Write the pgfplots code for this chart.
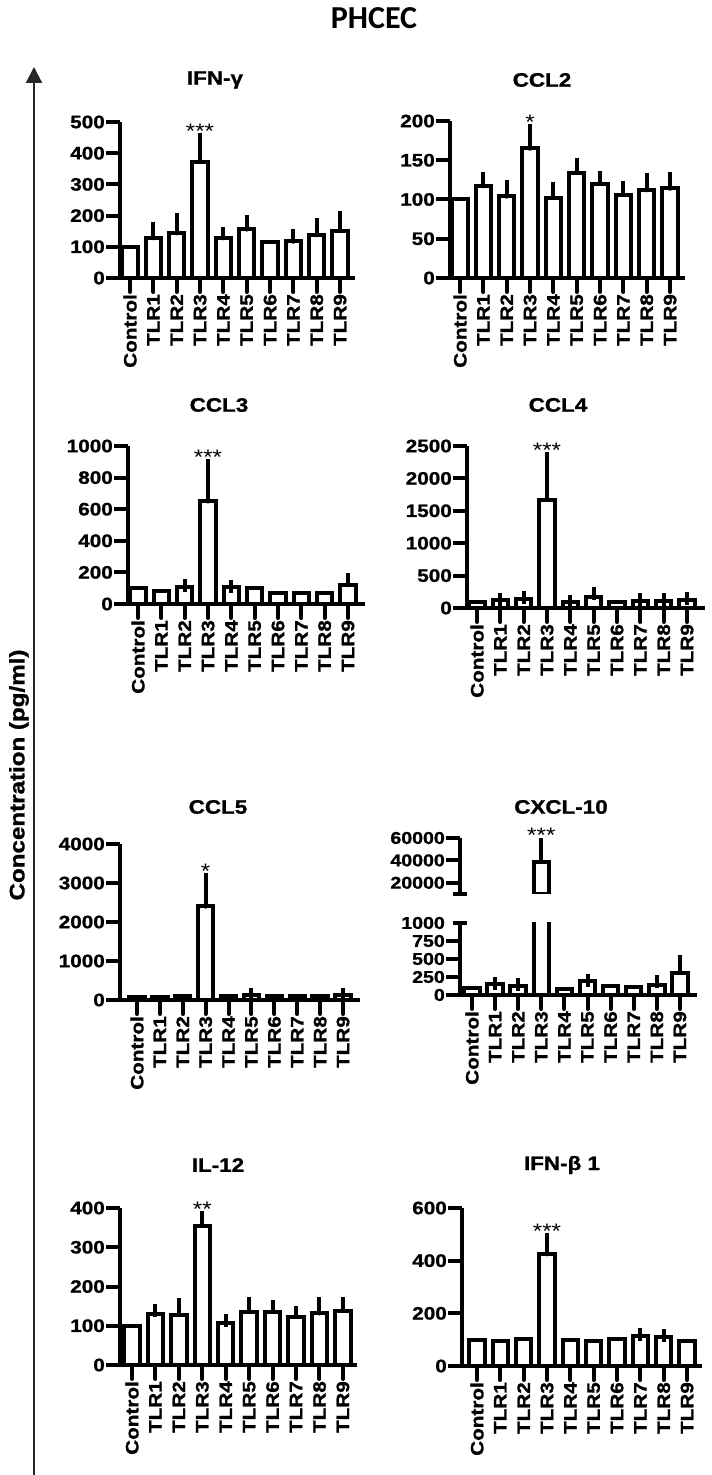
\documentclass[border=0pt]{standalone}
\usepackage{pgfplots}
\pgfplotsset{compat=1.18}
\usepackage{fontspec}
\setmainfont{Liberation Sans}[FakeStretch=1.15, BoldFeatures={FakeBold=1.2}]
\newfontfamily\calib{Carlito}
\usetikzlibrary{arrows.meta}
\newcommand\tl{\bfseries\fontsize{18}{18}\selectfont}
\newcommand\xl{\bfseries\fontsize{18}{18}\selectfont}
\newcommand\ttl{\bfseries\fontsize{19.5}{19.5}\selectfont}
\tikzset{sigstar/.style={font=\fontsize{21}{21}\selectfont, anchor=base, yshift=1pt}}
\pgfplotsset{
  panel/.style={
    scale only axis, anchor=south west,
    axis x line*=bottom, axis y line*=left,
    axis line style={line width=4.4pt, black},
    tick style={line width=4pt, black},
    xtick style={line cap=round},
    major tick length=14pt, tick align=outside,
    xtick={0,...,9},
    xticklabels={Control,TLR1,TLR2,TLR3,TLR4,TLR5,TLR6,TLR7,TLR8,TLR9},
    xticklabel style={rotate=90, anchor=east, font=\xl, inner sep=2pt},
    yticklabel style={font=\tl, inner sep=1pt},
    ymin=0, clip=false, scaled y ticks=false,
  },
  bars/.style={ybar, bar width=15.5pt, bar shift=0pt, fill=white, draw=black, line width=4pt},
  errs/.style={only marks, mark=none, black,
    error bars/.cd, y dir=plus, y explicit,
    error bar style={line width=4pt, black},
    error mark options={mark size=6.5pt, line width=4pt, black}},
}
\begin{document}
\begin{tikzpicture}
\useasboundingbox (0pt,0pt) rectangle (712pt,1475pt);
% ---------- IFN-gamma
\begin{axis}[panel, at={(120pt,1197pt)}, width=235pt, height=156pt, xmin=-0.43, xmax=9.64,
  ymax=500, ytick={0,100,200,300,400,500}, yticklabels={0,100,200,300,400,500}]
\addplot[bars] table[x=x,y=y] {
x y
0 100
1 128
2 144
3 372
4 128
5 156
6 114
7 117
8 138
9 151
};
\addplot[errs] table[x=x,y=y,y error=e] {
x y e
1 128 32
2 144 44
3 372 73
4 128 13
5 156 25
7 117 18
8 138 32
9 151 43
};
\node[sigstar] at (axis cs:3,445) {***};
\end{axis}
% ---------- CCL2
\begin{axis}[panel, at={(450pt,1197pt)}, width=235pt, height=157pt, xmin=-0.43, xmax=9.64,
  ymax=200, ytick={0,50,100,150,200}, yticklabels={0,50,100,150,200}]
\addplot[bars] table[x=x,y=y] {
x y
0 100
1 117
2 104
3 165
4 102
5 134
6 120
7 106
8 112
9 114
};
\addplot[errs] table[x=x,y=y,y error=e] {
x y e
1 117 10
2 104 12
3 165 23
4 102 12
5 134 11
6 120 8
7 106 9
8 112 13
9 114 13
};
\node[sigstar] at (axis cs:3,188) {*};
\end{axis}
% ---------- CCL3
\begin{axis}[panel, at={(128pt,871pt)}, width=237pt, height=158pt, xmin=-0.43, xmax=9.73,
  ymax=1000, ytick={0,200,400,600,800,1000}, yticklabels={0,200,400,600,800,1000}]
\addplot[bars] table[x=x,y=y] {
x y
0 100
1 85
2 110
3 650
4 105
5 100
6 72
7 72
8 68
9 120
};
\addplot[errs] table[x=x,y=y,y error=e] {
x y e
2 110 5
3 650 225
4 105 5
9 120 35
};
\node[sigstar] at (axis cs:3,875) {***};
\end{axis}
% ---------- CCL4
\begin{axis}[panel, at={(467pt,867pt)}, width=238pt, height=162pt, xmin=-0.43, xmax=9.77,
  ymax=2500, ytick={0,500,1000,1500,2000,2500}, yticklabels={0,500,1000,1500,2000,2500}]
\addplot[bars] table[x=x,y=y] {
x y
0 90
1 120
2 140
3 1670
4 90
5 170
6 90
7 110
8 115
9 125
};
\addplot[errs] table[x=x,y=y,y error=e] {
x y e
1 120 15
2 140 15
3 1670 630
4 90 10
5 170 60
7 110 15
8 115 15
9 125 15
};
\node[sigstar] at (axis cs:3,2300) {***};
\end{axis}
% ---------- CCL5
\begin{axis}[panel, at={(120pt,475pt)}, width=240pt, height=156pt, xmin=-0.74, xmax=9.74,
  ymax=4000, ytick={0,1000,2000,3000,4000}, yticklabels={0,1000,2000,3000,4000}]
\addplot[bars] table[x=x,y=y] {
x y
0 80
1 85
2 90
3 2400
4 110
5 130
6 110
7 95
8 100
9 120
};
\addplot[errs] table[x=x,y=y,y error=e] {
x y e
3 2400 700
5 130 20
9 120 20
};
\node[sigstar] at (axis cs:3,3100) {*};
\end{axis}
% ---------- CXCL-10 lower
\begin{axis}[panel, at={(460pt,480pt)}, width=237pt, height=72pt, xmin=-0.52, xmax=9.74,
  ymax=1000, clip=true, ytick={0,250,500,750}, yticklabels={0,250,500,750},
  yticklabel style={font=\bfseries\fontsize{17}{17}\selectfont},
  extra y ticks={1000}, extra y tick labels={1000},
  extra y tick style={tick align=center, yticklabel style={font=\bfseries\fontsize{17}{17}\selectfont, xshift=-7pt}}]
\addplot[bars] table[x=x,y=y] {
x y
0 100
1 150
2 130
3 39000
4 90
5 190
6 120
7 110
8 140
9 310
};
\addplot[errs] table[x=x,y=y,y error=e] {
x y e
1 150 10
2 130 15
5 190 15
8 140 45
9 310 150
};
\end{axis}
% ---------- CXCL-10 upper
\begin{axis}[scale only axis, anchor=south west, at={(460pt,581pt)}, width=237pt, height=56pt,
  xmin=-0.52, xmax=9.74, ymin=10000, ymax=60000, clip=true, scaled y ticks=false,
  axis x line=none, axis y line*=left,
  axis line style={line width=4.4pt, black},
  tick style={line width=4pt, black}, major tick length=14pt, tick align=outside,
  ytick={20000,40000,60000}, yticklabels={20000,40000,60000},
  yticklabel style={font=\bfseries\fontsize{17}{17}\selectfont, inner sep=1pt},
  extra y ticks={10000}, extra y tick labels={}, extra y tick style={tick align=center}]
\addplot[bars] table[x=x,y=y] {
x y
3 39000
};
\addplot[errs] table[x=x,y=y,y error=e] {
x y e
3 39000 15000
};
\end{axis}
\begin{axis}[scale only axis, anchor=south west, at={(460pt,581pt)}, width=237pt, height=56pt,
  xmin=-0.52, xmax=9.74, ymin=10000, ymax=60000, hide axis, clip=false]
\node[sigstar] at (axis cs:3,55000) {***};
\end{axis}
% ---------- IL-12
\begin{axis}[panel, at={(120pt,110pt)}, width=237pt, height=157pt, xmin=-0.51, xmax=9.6,
  ymax=400, ytick={0,100,200,300,400}, yticklabels={0,100,200,300,400}]
\addplot[bars] table[x=x,y=y] {
x y
0 100
1 130
2 128
3 355
4 106
5 136
6 136
7 123
8 132
9 138
};
\addplot[errs] table[x=x,y=y,y error=e] {
x y e
1 130 10
2 128 25
3 355 22
4 106 7
5 136 21
6 136 13
7 123 11
8 132 25
9 138 19
};
\node[sigstar] at (axis cs:3,377) {**};
\end{axis}
% ---------- IFN-beta 1
\begin{axis}[panel, at={(462pt,109pt)}, width=240pt, height=158pt, xmin=-0.64, xmax=9.64,
  ymax=600, ytick={0,200,400,600}, yticklabels={0,200,400,600}]
\addplot[bars] table[x=x,y=y] {
x y
0 100
1 96
2 101
3 425
4 100
5 96
6 104
7 114
8 112
9 94
};
\addplot[errs] table[x=x,y=y,y error=e] {
x y e
3 425 55
7 114 4
8 112 3
};
\node[sigstar] at (axis cs:3,480) {***};
\end{axis}
% ---------- titles and labels
\node[font=\calib\bfseries\fontsize{32}{32}\selectfont] at (374pt,1457pt) {PHCEC};
\node[font=\ttl] at (215pt,1395pt) {IFN-γ};
\node[font=\ttl] at (542pt,1395pt) {CCL2};
\node[font=\ttl] at (219pt,1070pt) {CCL3};
\node[font=\ttl] at (558pt,1070pt) {CCL4};
\node[font=\ttl] at (218pt,668pt) {CCL5};
\node[font=\ttl] at (561pt,668pt) {CXCL-10};
\node[font=\ttl] at (218pt,310pt) {IL-12};
\node[font=\ttl] at (562pt,310pt) {IFN-β 1};
\draw[line width=2pt, black!85, -{Triangle[width=16pt,length=16pt]}] (34pt,0pt) -- (34pt,1408pt);
\node[rotate=90, font=\bfseries\fontsize{21}{21}\selectfont] at (19pt,700pt) {Concentration (pg/ml)};
\end{tikzpicture}
\end{document}
